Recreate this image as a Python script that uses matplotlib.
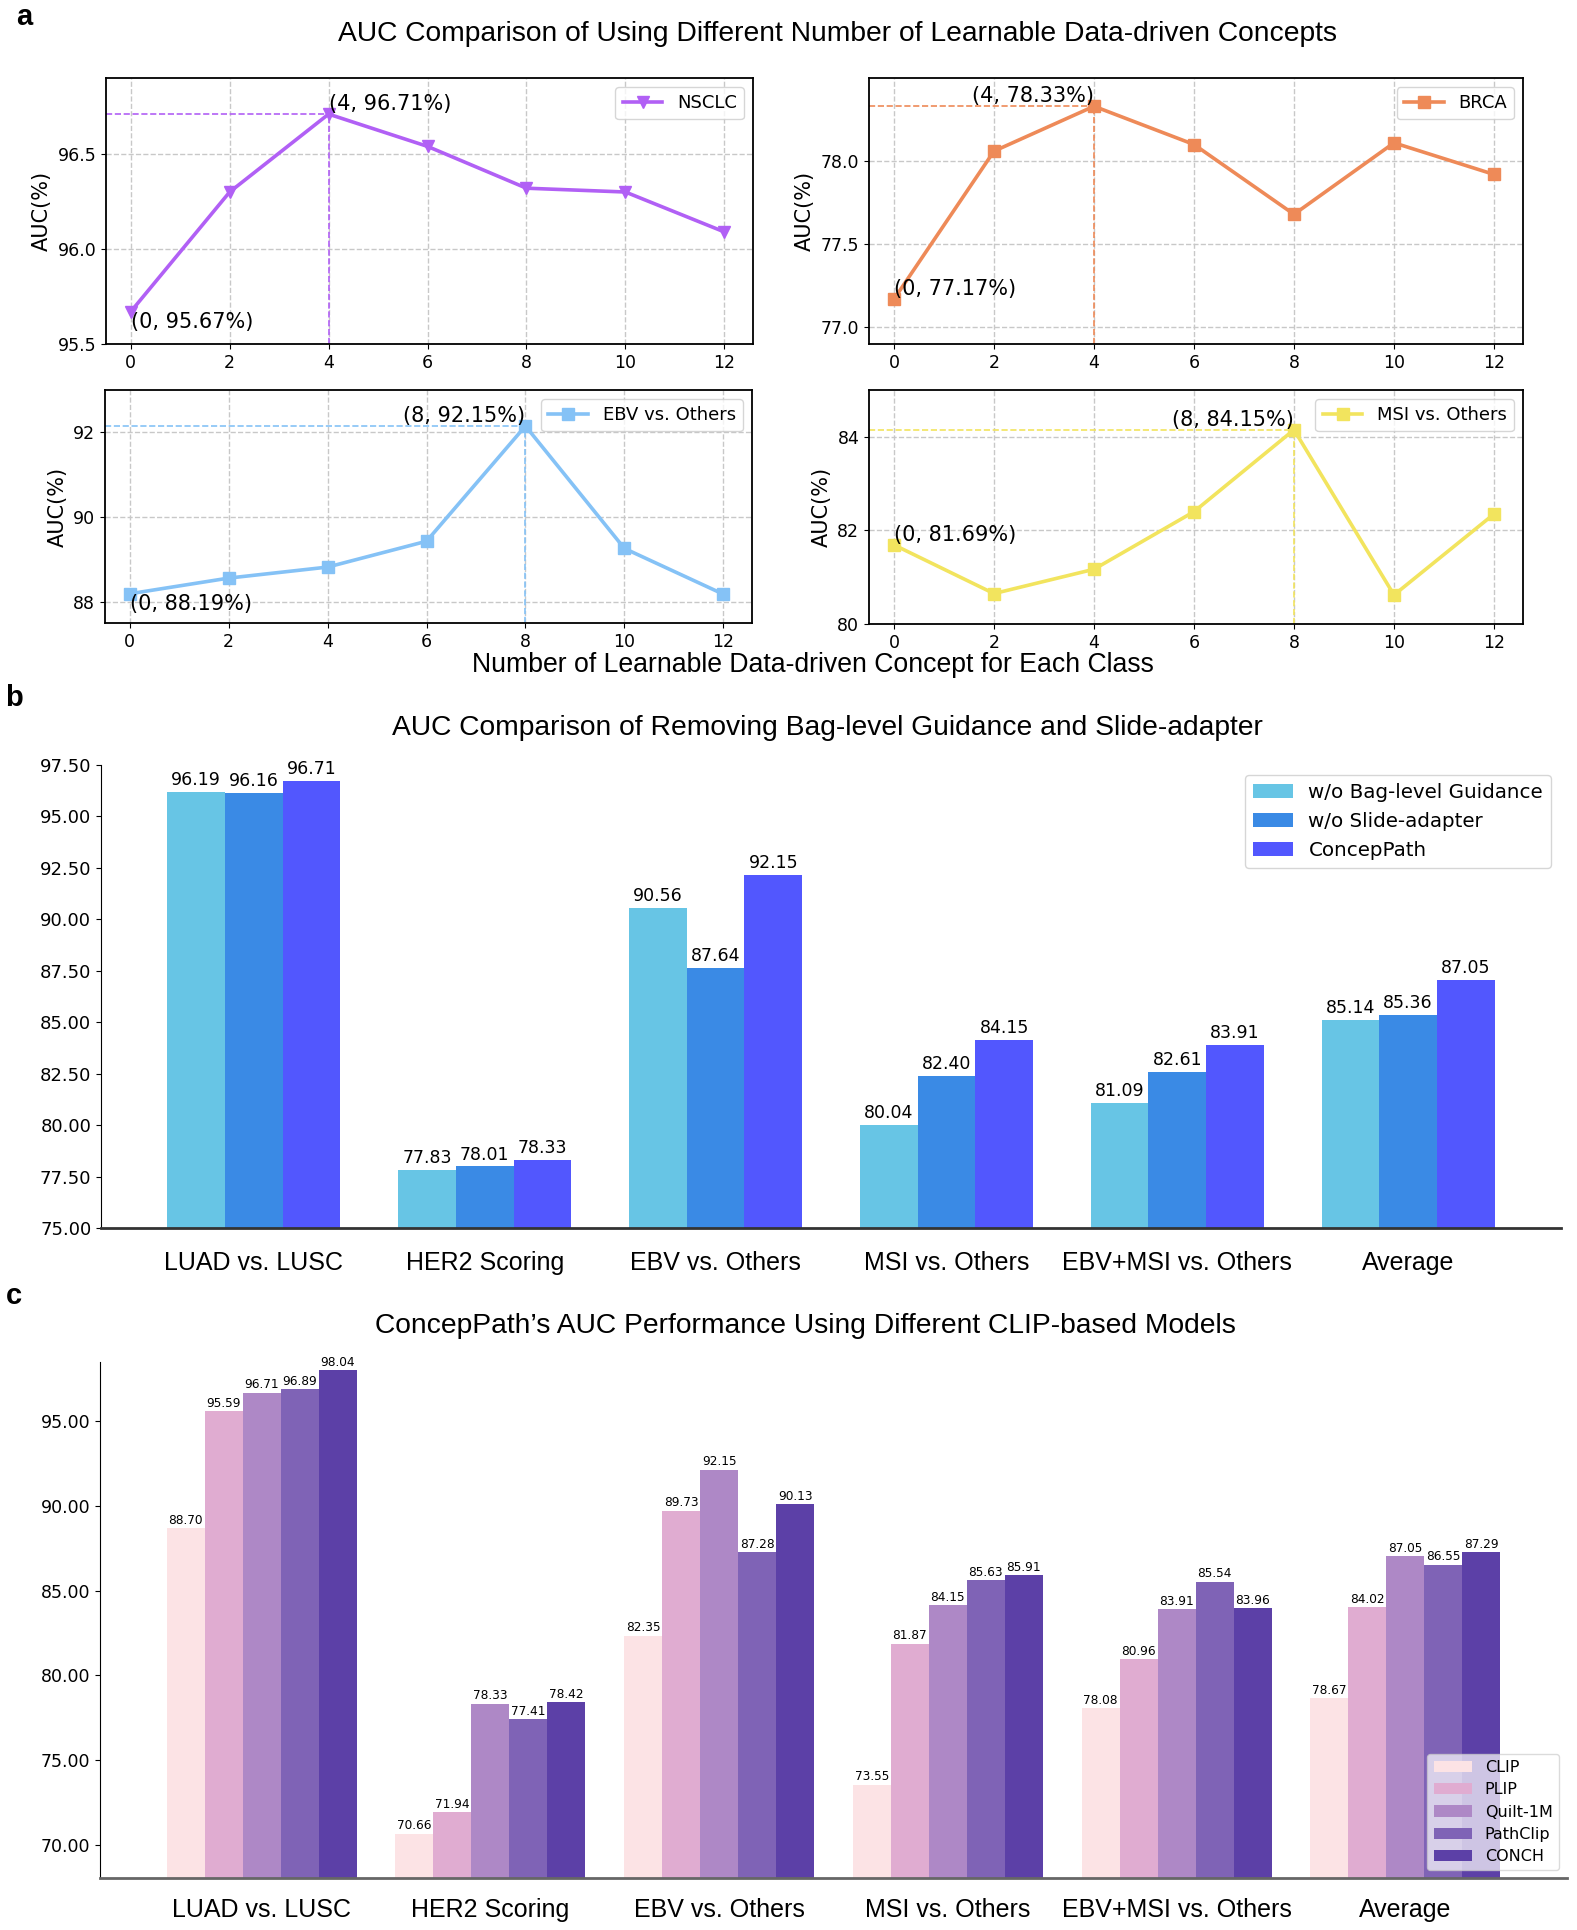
import matplotlib
matplotlib.use("Agg")
import matplotlib.pyplot as plt
import numpy as np

plt.rcParams['font.family'] = ['DejaVu Sans']

# ---------------- data: panel a ----------------
concepts = [0, 2, 4, 6, 8, 10, 12]
nsclc = [95.67, 96.30, 96.71, 96.54, 96.32, 96.30, 96.09]
brca = [77.17, 78.06, 78.33, 78.10, 77.68, 78.11, 77.92]
ebv = [88.19, 88.56, 88.82, 89.43, 92.15, 89.26, 88.18]
msi = [81.69, 80.65, 81.17, 82.40, 84.15, 80.62, 82.35]

# ---------------- data: panel b ----------------
tasks = ["LUAD vs. LUSC", "HER2 Scoring", "EBV vs. Others", "MSI vs. Others",
         "EBV+MSI vs. Others", "Average"]
ablation_names = ["w/o Bag-level Guidance", "w/o Slide-adapter", "ConcepPath"]
wo_bag = [96.19, 77.83, 90.56, 80.04, 81.09, 85.14]
wo_adapter = [96.16, 78.01, 87.64, 82.40, 82.61, 85.36]
concep = [96.71, 78.33, 92.15, 84.15, 83.91, 87.05]

# ---------------- data: panel c ----------------
clip_names = ["CLIP", "PLIP", "Quilt-1M", "PathClip", "CONCH"]
clip = [88.70, 70.66, 82.35, 73.55, 78.08, 78.67]
plip = [95.59, 71.94, 89.73, 81.87, 80.96, 84.02]
quilt = [96.71, 78.33, 92.15, 84.15, 83.91, 87.05]
pathclip = [96.89, 77.41, 87.28, 85.63, 85.54, 86.55]
conch = [98.04, 78.42, 90.13, 85.91, 83.96, 87.29]

W, H = 1577, 1930
fig = plt.figure(figsize=(W / 100, H / 100), dpi=100)

def ax_px(x0, x1, y0, y1):
    return fig.add_axes([x0 / W, 1 - y1 / H, (x1 - x0) / W, (y1 - y0) / H])

TITLE_FONT = ['Liberation Sans', 'DejaVu Sans']

# ---------------- panel a ----------------
line_specs = [
    (nsclc, "NSCLC", "#B160F5", "v", (106, 753, 78, 344), (95.5, 96.9), [95.5, 96.0, 96.5], "%.1f",
     ("left", "bottom"), ("left", "top")),
    (brca, "BRCA", "#EE8A58", "s", (869, 1523, 78, 344), (76.9, 78.5), [77.0, 77.5, 78.0], "%.1f",
     ("right", "bottom"), ("left", "bottom")),
    (ebv, "EBV vs. Others", "#85C2F6", "s", (105, 752, 390, 623), (87.5, 93.0), [88, 90, 92], "%d",
     ("right", "bottom"), ("left", "top")),
    (msi, "MSI vs. Others", "#F2E45E", "s", (869, 1523, 390, 624), (80.0, 85.0), [80, 82, 84], "%d",
     ("right", "bottom"), ("left", "bottom")),
]

for vals, name, col, mk, box, ylim, yt, fmt, peak_al, first_al in line_specs:
    ax = ax_px(*box)
    ax.plot(concepts, vals, color=col, marker=mk, lw=2.6, ms=9, label=name, zorder=3)
    ax.set_ylim(*ylim)
    ax.set_yticks(yt)
    ax.set_yticklabels([fmt % v for v in yt])
    ax.set_xticks(concepts)
    ax.set_xlim(-0.5, 12.58)
    ax.grid(True, linestyle='--', color='#c8c8c8', lw=1.0)
    ax.tick_params(labelsize=12.5)
    ax.set_ylabel("AUC(%)", fontsize=15)
    xl = ax.get_xlim()
    i = int(np.argmax(vals))
    ax.hlines(vals[i], xl[0], concepts[i], colors=col, linestyles='--', lw=1.2, zorder=2)
    ax.vlines(concepts[i], ylim[0], vals[i], colors=col, linestyles='--', lw=1.2, zorder=2)
    ax.text(concepts[i], vals[i], "(%d, %.2f%%)" % (concepts[i], vals[i]),
            ha=peak_al[0], va=peak_al[1], fontsize=15, zorder=4)
    ax.text(concepts[0], vals[0], "(%d, %.2f%%)" % (concepts[0], vals[0]),
            ha=first_al[0], va=first_al[1], fontsize=15, zorder=4)
    ax.legend(loc='upper right', fontsize=13, handlelength=2.2)
    for s in ax.spines.values():
        s.set_linewidth(1.3)

fig.text(24 / W, 1 - 17 / H, "a", fontsize=21, fontweight='bold', family=TITLE_FONT,
         ha='center', va='center')
fig.text(838 / W, 1 - 34 / H, "AUC Comparison of Using Different Number of Learnable Data-driven Concepts",
         fontsize=20.3, family=TITLE_FONT, ha='center', va='center')
fig.text(813 / W, 1 - 665 / H, "Number of Learnable Data-driven Concept for Each Class",
         fontsize=19.2, family=TITLE_FONT, ha='center', va='center')

# ---------------- panel b ----------------
axb = ax_px(101, 1561, 765, 1228.4)
x = np.arange(len(tasks))
wb = 0.25
b_cols = ["#67C5E5", "#3A8AE5", "#5257FE"]
for k, (vals, nm) in enumerate(zip([wo_bag, wo_adapter, concep], ablation_names)):
    bars = axb.bar(x + (k - 1) * wb, vals, wb, color=b_cols[k], label=nm)
    axb.bar_label(bars, fmt='%.2f', padding=2, fontsize=12.5)
axb.set_ylim(75, 97.5)
yt_b = np.arange(75, 97.6, 2.5)
axb.set_yticks(yt_b)
axb.set_yticklabels(["%.2f" % v for v in yt_b])
axb.set_xticks(x)
axb.set_xticklabels(tasks, fontsize=18, family=TITLE_FONT)
axb.tick_params(axis='x', length=0, pad=16)
axb.tick_params(axis='y', labelsize=13)
axb.spines['top'].set_visible(False)
axb.spines['right'].set_visible(False)
axb.spines['bottom'].set_linewidth(2.0)
axb.spines['bottom'].set_color('#333333')
axb.legend(loc='upper right', fontsize=14.3)

fig.text(14 / W, 1 - 698 / H, "b", fontsize=21, fontweight='bold', family=TITLE_FONT,
         ha='center', va='center')
fig.text(827 / W, 1 - 728 / H, "AUC Comparison of Removing Bag-level Guidance and Slide-adapter",
         fontsize=20.3, family=TITLE_FONT, ha='center', va='center')

# ---------------- panel c ----------------
axc = ax_px(100, 1567, 1361.7, 1878.3)
wc = 0.166
c_cols = ["#FCE3E5", "#E0ACD1", "#AE88C6", "#7F63B6", "#5C40A7"]
for k, (vals, nm) in enumerate(zip([clip, plip, quilt, pathclip, conch], clip_names)):
    bars = axc.bar(x + (k - 2) * wc, vals, wc, color=c_cols[k], label=nm)
    axc.bar_label(bars, fmt='%.2f', padding=1, fontsize=8.7)
axc.set_ylim(68.02, 98.53)
yt_c = np.arange(70, 96, 5)
axc.set_yticks(yt_c)
axc.set_yticklabels(["%.2f" % v for v in yt_c])
axc.set_xticks(x)
axc.set_xticklabels(tasks, fontsize=18, family=TITLE_FONT)
axc.tick_params(axis='x', length=0, pad=14.5)
axc.tick_params(axis='y', labelsize=12.5)
axc.spines['top'].set_visible(False)
axc.spines['right'].set_visible(False)
axc.spines['bottom'].set_linewidth(2.0)
axc.spines['bottom'].set_color('#666666')
axc.legend(loc='lower right', fontsize=11.5, framealpha=0.7, handlelength=2.4,
           labelspacing=0.45, borderaxespad=0.5)

fig.text(14 / W, 1 - 1296 / H, "c", fontsize=21, fontweight='bold', family=TITLE_FONT,
         ha='center', va='center')
fig.text(805 / W, 1 - 1326 / H, "ConcepPath\u2019s AUC Performance Using Different CLIP-based Models",
         fontsize=20.3, family=TITLE_FONT, ha='center', va='center')

fig.savefig("out.png", dpi=100)
